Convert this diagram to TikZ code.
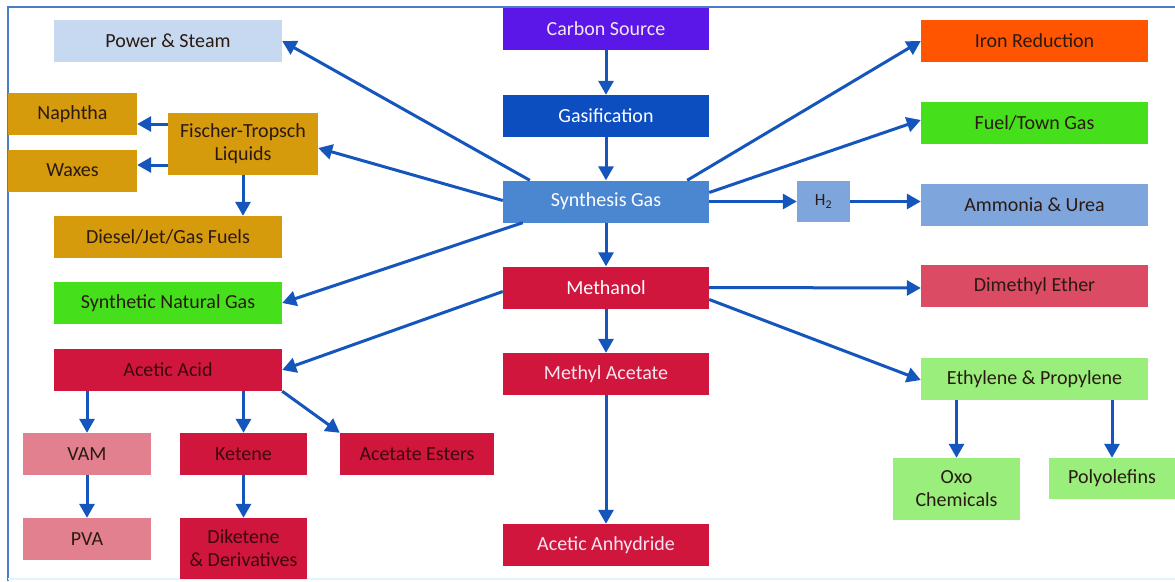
\documentclass[tikz,border=0pt]{standalone}
\usepackage{fontspec}
\setmainfont{Carlito}
\usetikzlibrary{arrows.meta,calc}
\definecolor{framecol}{HTML}{4A7CC8}
\definecolor{arrcol}{HTML}{1556BD}
\definecolor{powercol}{HTML}{C6D9F0}
\definecolor{carboncol}{HTML}{5A17E8}
\definecolor{gasifcol}{HTML}{0C4DBF}
\definecolor{syncol}{HTML}{4B86D1}
\definecolor{ironcol}{HTML}{FF5500}
\definecolor{fuelcol}{HTML}{45E01B}
\definecolor{hblue}{HTML}{7EA6DC}
\definecolor{goldcol}{HTML}{D69A0D}
\definecolor{crimcol}{HTML}{D0163C}
\definecolor{dmecol}{HTML}{DB4B63}
\definecolor{lgreen}{HTML}{9AEE7C}
\definecolor{pinkcol}{HTML}{E3808F}
\definecolor{darktxt}{HTML}{2A1A12}
\definecolor{redtxt}{HTML}{3A0A10}
\definecolor{lighttxt}{HTML}{F4E6F0}
\tikzset{
  box/.style={rectangle, inner sep=0pt, align=center, text=darktxt,
    font=\fontsize{20}{23}\selectfont},
  wide/.style={box, minimum width=228pt, minimum height=42pt},
  mid/.style={box, minimum width=206pt, minimum height=42pt},
  small/.style={box, minimum width=128pt, minimum height=42pt},
  arr/.style={draw=arrcol, line width=3pt,
    -{Triangle[length=14pt,width=15pt]}},
}
\begin{document}
\begin{tikzpicture}[x=1pt,y=-1pt]
\useasboundingbox (0,0) rectangle (1175,581);
\fill[white] (0,0) rectangle (1175,581);
% frame lines
\draw[framecol, line width=2.5pt] (8,581) -- (8,7) -- (1175,7);
\draw[cyan!12, line width=2pt] (8,579) -- (1175,579);

% central column
\node[mid, fill=carboncol, text=lighttxt] (carbon) at (606,29) {Carbon Source};
\node[mid, fill=gasifcol, text=white] (gasif) at (606,116) {Gasification};
\node[mid, fill=syncol, text=white] (syn) at (606,201.5) {Synthesis Gas};
\node[mid, fill=crimcol, text=white] (meoh) at (606,287.5) {Methanol};
\node[mid, fill=crimcol, text=lighttxt] (meac) at (606,374) {Methyl Acetate};
\node[mid, fill=crimcol, text=lighttxt] (anhyd) at (606,545) {Acetic Anhydride};

% left side
\node[wide, fill=powercol] (power) at (168,41) {Power \& Steam};
\node[small, minimum width=129pt, fill=goldcol] (naph) at (72.5,114) {Naphtha};
\node[small, minimum width=129pt, fill=goldcol] (wax) at (72.5,170.5) {Waxes};
\node[box, minimum width=150pt, minimum height=62pt, fill=goldcol] (ft) at (243,144) {Fischer-Tropsch\\Liquids};
\node[wide, fill=goldcol] (diesel) at (168,237) {Diesel/Jet/Gas Fuels};
\node[wide, fill=fuelcol] (sng) at (168,303) {Synthetic Natural Gas};
\node[wide, fill=crimcol, text=redtxt] (acetic) at (168,370) {Acetic Acid};
\node[small, fill=pinkcol] (vam) at (87,454) {VAM};
\node[small, fill=pinkcol] (pva) at (87,539) {PVA};
\node[small, minimum width=127pt, fill=crimcol, text=redtxt] (ketene) at (243.5,454) {Ketene};
\node[box, minimum width=127pt, minimum height=61pt, fill=crimcol, text=redtxt] (diket) at (243.5,548.5) {Diketene\\\& Derivatives};
\node[box, minimum width=154pt, minimum height=42pt, fill=crimcol, text=redtxt] (esters) at (417,454) {Acetate Esters};

% right side
\node[wide, minimum width=227pt, fill=ironcol] (iron) at (1034.5,41) {Iron Reduction};
\node[wide, minimum width=227pt, fill=fuelcol] (fuel) at (1034.5,123) {Fuel/Town Gas};
\node[box, minimum width=53pt, minimum height=41pt, fill=hblue, font=\fontsize{17}{19}\selectfont] (h2) at (823.5,201.5) {H\textsubscript{2}};
\node[wide, minimum width=227pt, fill=hblue] (ammonia) at (1034.5,205) {Ammonia \& Urea};
\node[wide, minimum width=227pt, fill=dmecol] (dme) at (1034.5,286) {Dimethyl Ether};
\node[wide, minimum width=227pt, fill=lgreen] (olef) at (1034.5,379) {Ethylene \& Propylene};
\node[box, minimum width=127pt, minimum height=62pt, fill=lgreen] (oxo) at (956.5,489) {Oxo\\Chemicals};
\node[box, minimum width=126pt, minimum height=41pt, fill=lgreen] (poly) at (1112,478.5) {Polyolefins};

% main chain
\draw[arr] (carbon) -- (gasif);
\draw[arr] (gasif) -- (syn);
\draw[arr] (syn) -- (meoh);
\draw[arr] (meoh) -- (meac);
\draw[arr] (meac) -- (anhyd);

% synthesis gas branches
\draw[arr] ($(syn.north west)+(27,0)$) -- (power.east);
\draw[arr] ($(syn.west)+(0,-1)$) -- ($(ft.east)+(0,4)$);
\draw[arr] ($(syn.south west)+(20,0)$) -- (sng.east);
\draw[arr] ($(syn.north east)+(-22,0)$) -- (iron.west);
\draw[arr] ($(syn.east)+(0,-9)$) -- ($(fuel.west)+(0,-3)$);
\draw[arr] (syn.east) -- (h2.west);
\draw[arr] (h2.east) -- (h2.east -| ammonia.west);

% methanol branches
\draw[arr] (meoh.east) -- ($(dme.west)+(0,2)$);
\draw[arr] ($(meoh.east)+(0,12)$) -- ($(olef.west)+(0,1)$);
\draw[arr] ($(meoh.west)+(0,4)$) -- (acetic.east);

% Fischer-Tropsch products
\draw[arr] ($(ft.west)+(0,-20)$) -- ($(naph.east)+(0,10)$);
\draw[arr] ($(ft.west)+(0,21)$) -- ($(wax.east)+(0,-5.5)$);
\draw[arr] (ft.south) -- (diesel.north -| ft.south);

% acetic acid products
\draw[arr] (acetic.south -| vam.north) -- (vam.north);
\draw[arr] (acetic.south -| ketene.north) -- (ketene.north);
\draw[arr] (acetic.south east) -- (esters.north west);
\draw[arr] (vam) -- (pva);
\draw[arr] (ketene.south) -- (diket.north);

% olefin products
\draw[arr] (olef.south -| oxo.north) -- (oxo.north);
\draw[arr] (olef.south -| poly.north) -- (poly.north);
\end{tikzpicture}
\end{document}
